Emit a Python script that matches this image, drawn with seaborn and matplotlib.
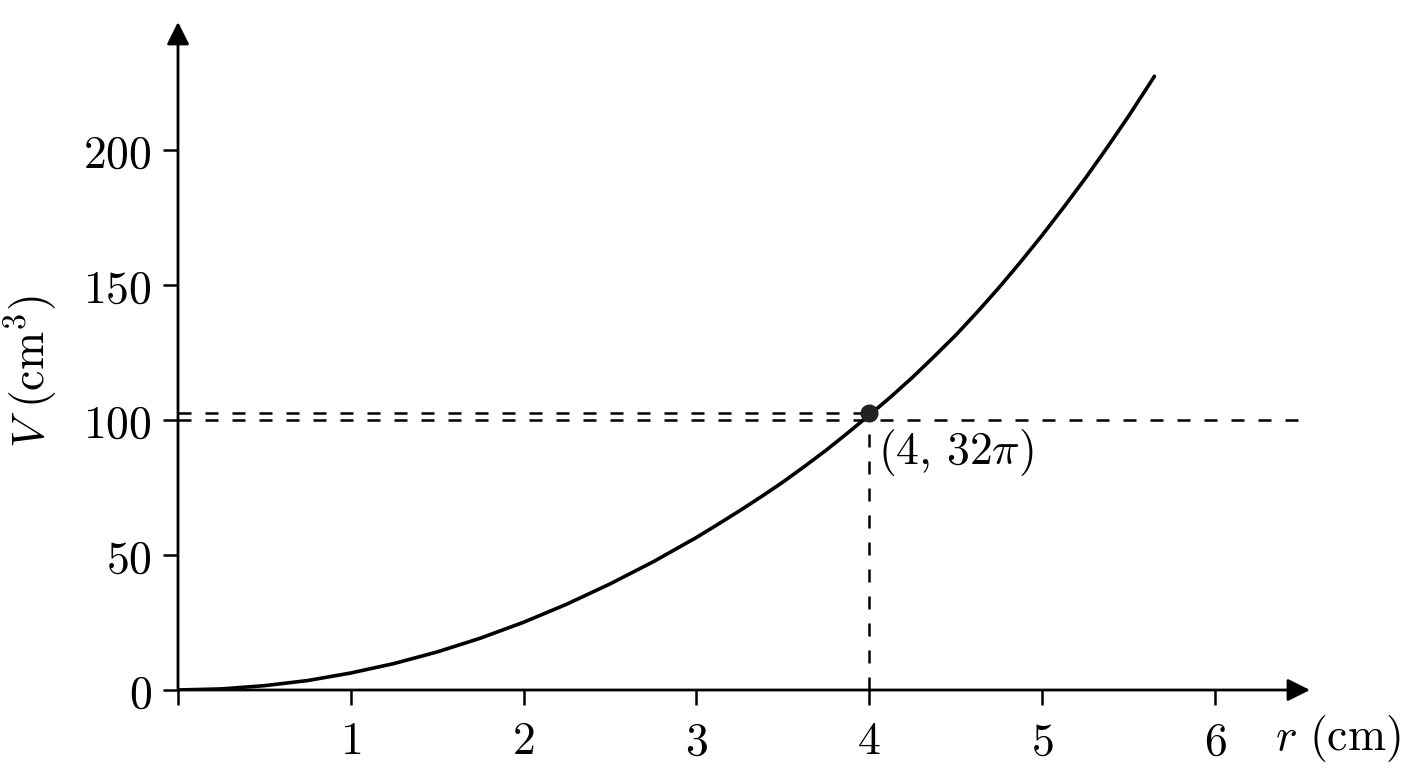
import matplotlib
matplotlib.use("Agg")
from matplotlib import pyplot as plt
import seaborn as sns
import pandas as pd

# values
radius = [0, 0.25, 0.5, 0.75, 1, 1.25, 1.5, 1.75, 2, 2.25, 2.5, 2.75, 3,
          3.125, 3.25, 3.375, 3.5, 3.625, 3.75, 3.875, 4, 4.125, 4.25, 4.375,
          4.5, 4.625, 4.75, 4.875, 5, 5.125, 5.25, 5.375, 5.5, 5.65]
volume = [0, 0.4, 1.6, 3.5, 6.3, 9.8, 14.1, 19.2, 25.1, 31.8, 39.3, 47.5, 56.5,
          61.4, 66.4, 71.6, 77.0, 82.8, 88.8, 95.2, 101.8, 108.6, 115.8, 123.5,
          131.4, 140.0, 149.0, 158.5, 168.4, 178.8, 189.5, 200.8, 212.5, 227.3]
point_r = 4
point_v = 102.5
ref_v = 100
x_ticks = [1, 2, 3, 4, 5, 6]
y_ticks = [0, 50, 100, 150, 200]
point_label = r"$(4,\,32\pi)$"

sns.set_theme(style="white")
plt.rcParams["mathtext.fontset"] = "cm"
plt.rcParams["font.family"] = ["DejaVu Serif"]

df = pd.DataFrame({"r": radius, "V": volume})

fig = plt.figure(figsize=(14.08, 7.68), dpi=100)
ax = fig.add_axes([178 / 1408, 1 - 690 / 768, (1310 - 178) / 1408, (690 - 22) / 768])
xmax, ymax = 6.55, 247.4
ax.set_xlim(0, xmax)
ax.set_ylim(0, ymax)

# dashed guide lines
dash = (0, (5.2, 5.6))
ax.plot([0, point_r], [point_v, point_v], color="black", lw=1.8, ls=dash)
ax.plot([0, 6.49], [ref_v, ref_v], color="black", lw=1.8, ls=dash)
ax.plot([point_r, point_r], [0, point_v], color="black", lw=1.8, ls=dash)

# the curve
sns.lineplot(x="r", y="V", data=df, color="black", lw=2.6, ax=ax)
ax.plot([point_r], [point_v], "o", color="#222222", ms=12, zorder=5)
ax.text(point_r + 0.05, 88, point_label, fontsize=33, ha="left", va="center",
        color="black")

# axes as arrows
for s in ax.spines.values():
    s.set_visible(False)
arrow = dict(arrowstyle="-|>", color="black", lw=2.0, mutation_scale=34,
             shrinkA=0, shrinkB=0)
ax.annotate("", xy=(xmax, 0), xytext=(0, 0), arrowprops=arrow, annotation_clip=False)
ax.annotate("", xy=(0, ymax), xytext=(0, 0), arrowprops=arrow, annotation_clip=False)

ax.set_xticks([0] + x_ticks)
ax.set_xticklabels([""] + [f"${t}$" for t in x_ticks])
ax.set_yticks(y_ticks)
ax.set_yticklabels([f"${t}$" for t in y_ticks])
ax.tick_params(axis="both", direction="out", length=11, width=1.8, color="black",
               labelsize=33, labelcolor="black")
ax.tick_params(axis="x", pad=10, bottom=True)
ax.tick_params(axis="y", pad=8, left=True)

ax.set_xlabel("")
ax.set_ylabel(r"$V\ (\mathrm{cm}^3)$", fontsize=33, color="black")
ax.yaxis.set_label_coords(-0.104, 0.476)
ax.text(6.71, -18, r"$r\ (\mathrm{cm})$", fontsize=33, ha="center", va="center",
        clip_on=False, color="black")

fig.savefig("out.png", dpi=100)
